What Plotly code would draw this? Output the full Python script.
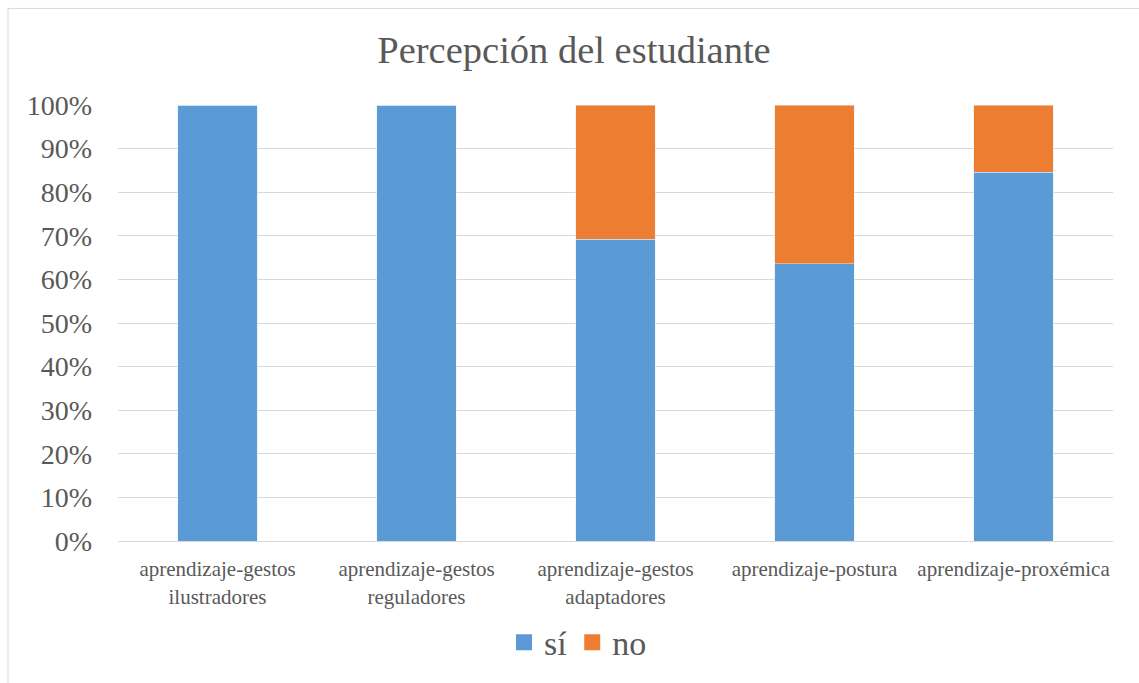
import plotly.graph_objects as go

categories = [
    "aprendizaje-gestos<br>ilustradores",
    "aprendizaje-gestos<br>reguladores",
    "aprendizaje-gestos<br>adaptadores",
    "aprendizaje-postura",
    "aprendizaje-proxémica",
]
si_values = [1.0, 1.0, 9 / 13, 7 / 11, 11 / 13]
no_values = [0.0, 0.0, 4 / 13, 4 / 11, 2 / 13]
tick_vals = [i / 10 for i in range(11)]
tick_text = [f"{i * 10}%" for i in range(11)]
series_names = ["sí", "no"]
series_colors = ["#5B9BD5", "#ED7D31"]

W, H = 1139, 683
L, R, T, B = 118, 26, 105, 140
pw, ph = W - L - R, H - T - B

fig = go.Figure()
for name, vals, col in zip(series_names, [si_values, no_values], series_colors):
    fig.add_trace(go.Bar(name=name, x=categories, y=vals, marker_color=col,
                         showlegend=False))
# legend entries with larger square swatches
for name, col in zip(series_names, series_colors):
    fig.add_trace(go.Scatter(name=name, x=[None], y=[None], mode="markers",
                             marker=dict(symbol="square", size=16, color=col),
                             showlegend=True))

fig.update_layout(
    barmode="stack",
    bargap=0.6,
    width=W,
    height=H,
    margin=dict(l=L, r=R, t=T, b=B),
    paper_bgcolor="white",
    plot_bgcolor="white",
    font=dict(family="Liberation Serif", color="#595959"),
    title=dict(
        text="Percepción del estudiante",
        x=574 / W,
        xanchor="center",
        y=1 - 50 / H,
        yanchor="middle",
        font=dict(size=38.5, color="#595959", family="Liberation Serif"),
    ),
    showlegend=True,
    legend=dict(
        orientation="h",
        x=(578 - L) / pw,
        xanchor="center",
        y=(0 - (645 - (T + ph))) / ph,
        yanchor="middle",
        font=dict(size=34, color="#595959"),
        itemwidth=30,
        traceorder="normal",
    ),
    xaxis=dict(
        tickfont=dict(size=21, color="#595959"),
        showline=True,
        linecolor="#D9D9D9",
        linewidth=1,
        ticks="",
        ticklabelstandoff=9,
    ),
    yaxis=dict(
        range=[0, 1],
        tickvals=tick_vals,
        ticktext=tick_text,
        tickfont=dict(size=28, color="#595959"),
        showgrid=True,
        gridcolor="#D9D9D9",
        gridwidth=1,
        zeroline=False,
        ticks="",
        ticklabelstandoff=25,
    ),
    shapes=[
        dict(
            type="rect",
            xref="paper",
            yref="paper",
            x0=(8 - L) / pw,
            x1=(W + 5 - L) / pw,
            y0=-(H + 5 - T - ph) / ph,
            y1=1 + (T - 8) / ph,
            line=dict(color="#D9D9D9", width=1),
            fillcolor="rgba(0,0,0,0)",
            layer="below",
        )
    ],
)

fig.write_html("out.html")
